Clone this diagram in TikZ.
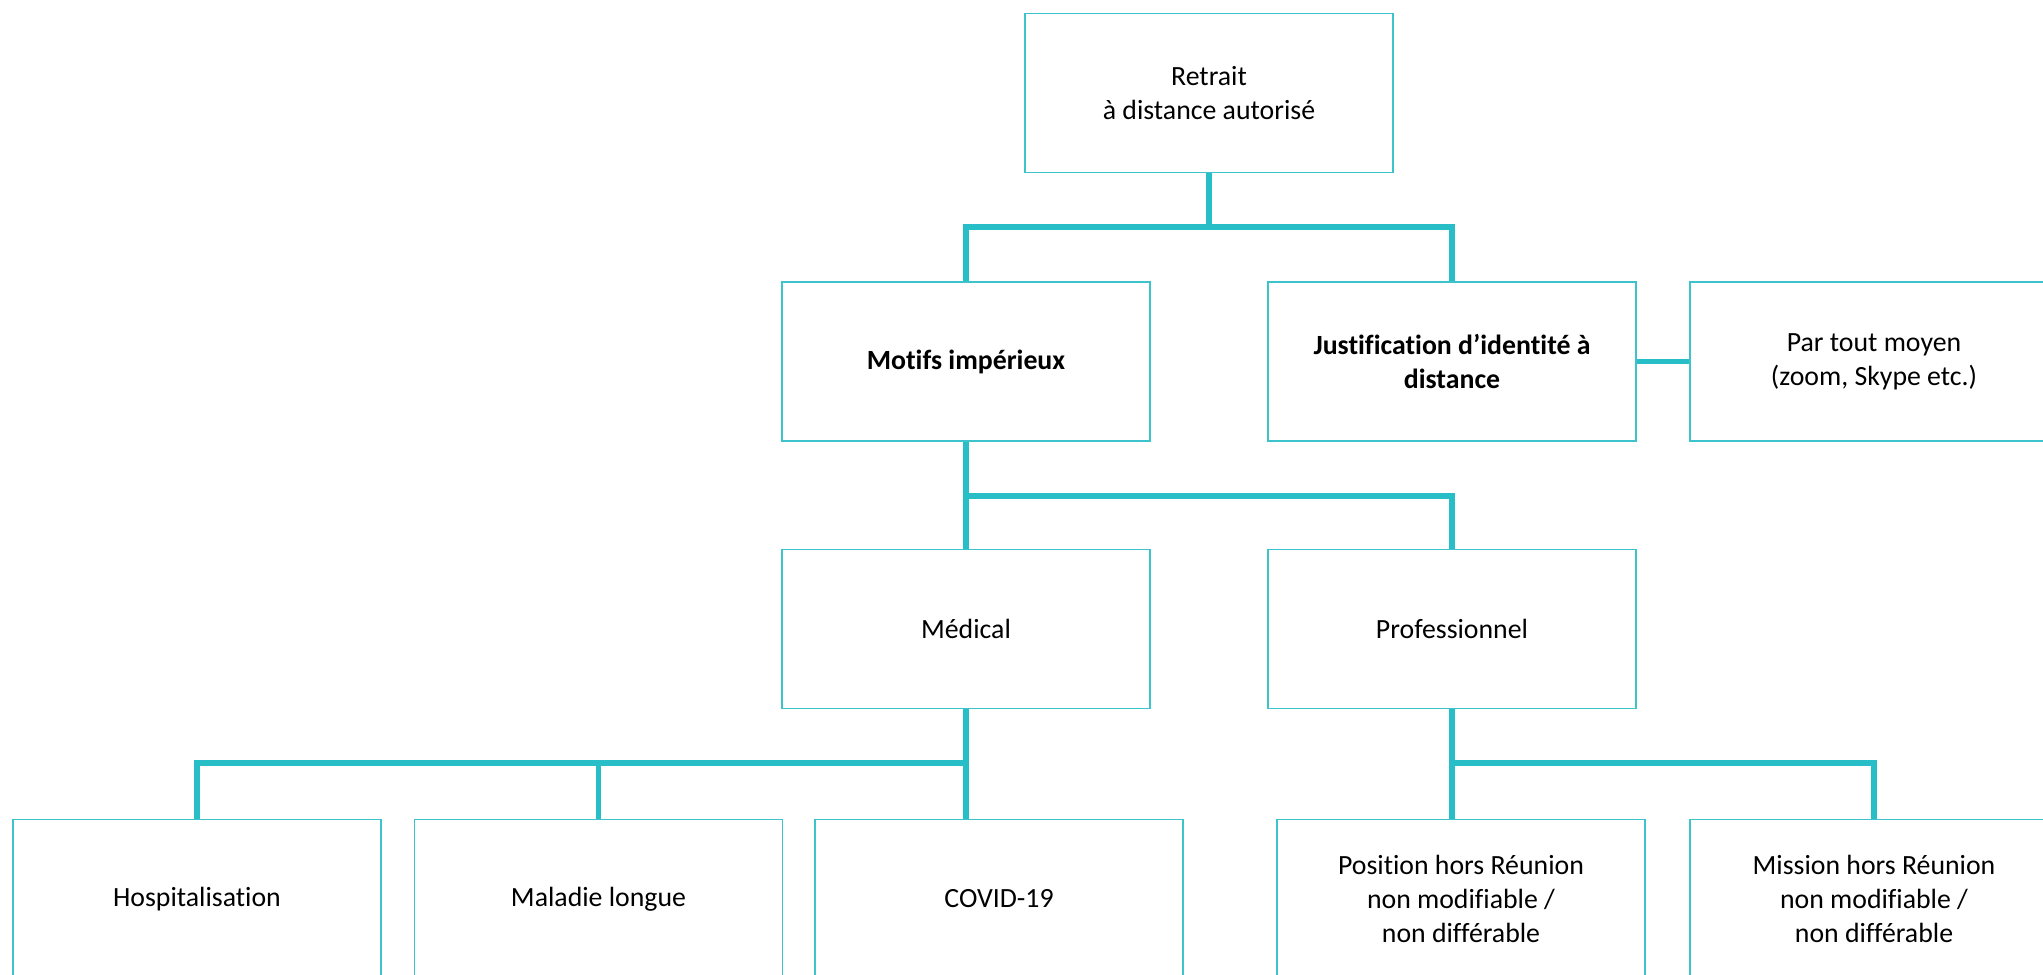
\documentclass[tikz,border=0pt]{standalone}
\usepackage{fontspec}
\setmainfont{Carlito}[Ligatures=NoCommon]
\definecolor{tealline}{HTML}{27BEC7}
\definecolor{tealbox}{HTML}{3CC3CB}
\begin{document}
\begin{tikzpicture}[x=0.5pt,y=-0.5pt,
  box/.style={draw=tealbox, line width=0.75pt, minimum width=184pt, minimum height=79.5pt,
    inner sep=0pt, align=center, font=\fontsize{13.9}{17}\selectfont, text=black, fill=white},
  link/.style={draw=tealline, line width=2.6pt}]
\clip (0,0) rectangle (2043,974);
\fill[white] (0,0) rectangle (2043,974);
% nodes
\node[box] (top) at (1209,93) {Retrait\\à distance autorisé};
\node[box] (motifs) at (966,361.5) {\bfseries Motifs impérieux};
\node[box] (justif) at (1452,361.5) {\bfseries Justification d’identité à\\\bfseries distance};
\node[box] (par) at (1874,361.5) {Par tout moyen\\(zoom, Skype etc.)};
\node[box] (medical) at (966,629) {Médical};
\node[box] (prof) at (1452,629) {Professionnel};
\node[box] (hosp) at (197,899) {Hospitalisation};
\node[box] (maladie) at (598.5,899) {Maladie longue};
\node[box] (covid) at (999,899) {COVID-19};
\node[box] (position) at (1461,899) {Position hors Réunion\\non modifiable /\\non différable};
\node[box] (mission) at (1874,899) {Mission hors Réunion\\non modifiable /\\non différable};
% bus levels
\coordinate (bus1) at (0,227);
\coordinate (bus2) at (0,496);
\coordinate (bus3) at (0,763);
% connectors
\draw[link] (top.south) -- (top.south |- bus1);
\draw[link] (motifs.north) |- (justif.north |- bus1) -- (justif.north);
\draw[link] (justif.east) -- (par.west);
\draw[link] (motifs.south) -- (medical.north);
\draw[link] (motifs.south |- bus2) -| (prof.north);
\draw[link] (medical.south) -- (medical.south |- covid.north);
\draw[link] (medical.south |- bus3) -| (hosp.north);
\draw[link] (maladie.north) -- (maladie.north |- bus3);
\draw[link] (prof.south) -- (prof.south |- position.north);
\draw[link] (prof.south |- bus3) -| (mission.north);
\end{tikzpicture}
\end{document}
